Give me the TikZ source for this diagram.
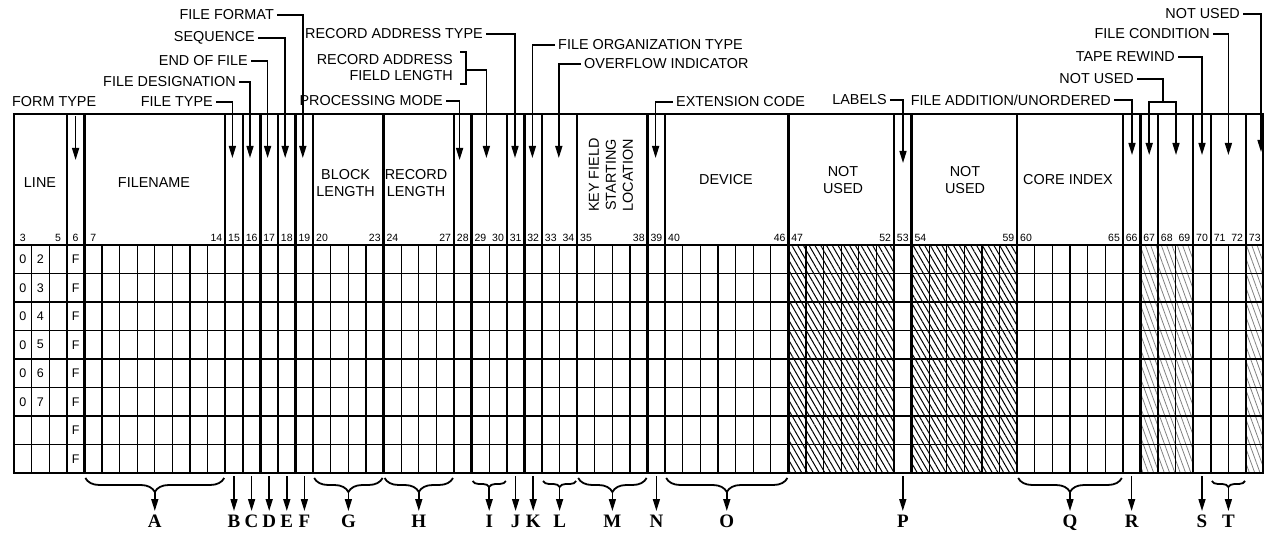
\documentclass[tikz,border=0pt]{standalone}
\usepackage{fontspec}
\setmainfont{Liberation Sans}
\newfontfamily\letterfont{Liberation Serif}
\usepackage{tikz}
\usetikzlibrary{arrows.meta}
\usetikzlibrary{decorations.pathreplacing}
\usetikzlibrary{patterns.meta}
\usetikzlibrary{positioning}
\tikzset{heavy/.style = {line width=2.4pt},
         light/.style = {line width=1.2pt},
         lead/.style = {line width=1.5pt, -{Triangle[length=12pt,width=7pt]}},
         leadline/.style = {line width=1.5pt},
         tag/.style = {font=\fontsize{14.4}{16}\selectfont, inner xsep=3pt, inner ysep=0pt},
         title/.style = {font=\fontsize{14.4}{17}\selectfont, align=center, inner sep=0pt},
         colnum/.style = {font=\fontsize{10.5}{12}\selectfont, inner sep=0pt},
         entry/.style = {font=\fontsize{12.5}{14}\selectfont, inner sep=0pt},
         letter/.style = {font=\letterfont\bfseries\fontsize{19}{19}\selectfont, inner sep=0pt},
         hatch/.style = {pattern={Lines[angle=-60,distance=5pt,line width=1pt]}},
         fainthatch/.style = {pattern={Lines[angle=-70,distance=5pt,line width=0.8pt]}, pattern color=black!50},
         bigbrace/.style = {line width=1.8pt, decorate, decoration={brace, mirror, amplitude=14pt}},
         smallbrace/.style = {line width=1.8pt, decorate, decoration={brace, mirror, amplitude=6pt}}}

\begin{document}
\begin{tikzpicture}[x=1pt, y=-1pt,
    declare function={cx(\c)=14+(\c-3)*17.6; ry(\r)=245+\r*28.5;}]
  \useasboundingbox (0,0) rectangle (1264,534);

  % shaded columns
  \fill[hatch] ({cx(47)},245) rectangle ({cx(53)},473);
  \fill[hatch] ({cx(54)},245) rectangle ({cx(60)},473);
  \fill[fainthatch] ({cx(67)},245) rectangle ({cx(70)},473);
  \fill[fainthatch] ({cx(73)},245) rectangle ({cx(74)},473);

  % grid
  \foreach \c in {4,...,73}
    \draw[light] ({cx(\c)},245) -- ({cx(\c)},473);
  \foreach \r in {1,2,3,4,5,7}
    \draw[light] (14,{ry(\r)}) -- (1264,{ry(\r)});
  \foreach \r in {0,6,8}
    \draw[heavy] (12.8,{ry(\r)}) -- (1264,{ry(\r)});
  \draw[heavy] (12.8,114) -- (1264,114);
  \foreach \c in {3,6,7,15,16,17,18,19,20,24,28,29,31,32,33,35,39,40,47,53,54,60,66,67,68,70,71,73,74}
    \draw[heavy] ({cx(\c)},114) -- ({cx(\c)},474.2);

  % column numbers
  \foreach \c in {3,5,6,7,14,15,16,17,18,19,20,23,24,27,28,29,30,31,32,33,34,35,38,39,40,46,47,52,53,54,59,60,65,66,67,68,69,70,71,72,73}
    \node[colnum] (n\c) at ({cx(\c)+8.8},238) {\c};

  % line numbers and form type
  \foreach \r/\d in {0/2,1/3,2/4,3/5,4/6,5/7} {
    \node[entry] (z\r) at ({cx(3)+8.8},{ry(\r)+14.25}) {0};
    \node[entry] (d\r) at ({cx(4)+8.8},{ry(\r)+14.25}) {\d};
  }
  \foreach \r in {0,...,7}
    \node[entry] (f\r) at ({cx(6)+8.8},{ry(\r)+14.25}) {F};

  % field titles
  \node[title] (line) at (40,183) {LINE};
  \node[title] (fname) at (154,183) {FILENAME};
  \node[title] (blen) at (345.6,183) {BLOCK\\LENGTH};
  \node[title] (rlen) at (416,183) {RECORD\\LENGTH};
  \node[title, rotate=90] (key) at (611,175) {KEY FIELD\\STARTING\\LOCATION};
  \node[title] (dev) at (726,180) {DEVICE};
  \node[title] (nu1) at (843,180) {NOT\\USED};
  \node[title] (nu2) at (965,180) {NOT\\USED};
  \node[title] (core) at (1068,180) {CORE INDEX};

  % labels above the form
  \node[tag, anchor=west] (ftype) at (9,102) {FORM TYPE};
  \coordinate (ftype-top) at ({cx(6)+8.8},116);
  \coordinate (ftype-tip) at ({cx(6)+8.8},160);
  \draw[lead] (ftype-top) -- (ftype-tip);

  \foreach \n/\t/\x/\y/\tx/\ty in {ftyp/FILE TYPE/216/102/232.4/158,
      fdes/FILE DESIGNATION/239/82/250/158,
      eof/END OF FILE/251/61/267.6/158,
      seq/SEQUENCE/258/38/285.2/158,
      ffmt/FILE FORMAT/277/15/302.8/158,
      pmode/PROCESSING MODE/446/101/459.6/160,
      ratype/RECORD ADDRESS TYPE/486/34/515/158,
      labels/LABELS/890/100/903/163,
      fadd/{FILE ADDITION/UNORDERED}/1114/100/1132/155,
      tape/TAPE REWIND/1178/57/1202/155,
      fcond/FILE CONDITION/1213/34/1228.4/155,
      nu3/NOT USED/1243/14/1261/152} {
    \node[tag, anchor=east] (\n) at (\x,\y) {\t};
    \coordinate (\n-tip) at (\tx,\ty);
    \draw[lead] (\n.east) -| (\n-tip);
  }

  \foreach \n/\t/\x/\y/\tx/\ty in {forg/FILE ORGANIZATION TYPE/555/45/532.4/158,
      ovfl/OVERFLOW INDICATOR/581/64/558.8/158,
      ext/EXTENSION CODE/673/102/655.6/158} {
    \node[tag, anchor=west] (\n) at (\x,\y) {\t};
    \coordinate (\n-tip) at (\tx,\ty);
    \draw[lead] (\n.west) -| (\n-tip);
  }

  \node[tag, anchor=east, align=right] (rafl) at (456,68) {RECORD ADDRESS\\FIELD LENGTH};
  \draw[leadline] (460,52) -- (466,52) -- (466,84) -- (460,84);
  \coordinate (rafl-br) at (466,70);
  \coordinate (rafl-tip) at (486.4,158);
  \draw[lead] (rafl-br) -| (rafl-tip);

  \node[tag, anchor=east] (nu4) at (1137,79) {NOT USED};
  \coordinate (nu4-fork) at (1163,102);
  \coordinate (nu4-a) at ({cx(67)+8.8},155);
  \coordinate (nu4-b) at (1176,155);
  \draw[leadline] (nu4.east) -| (nu4-fork);
  \draw[lead] (nu4-fork) -| (nu4-a);
  \draw[lead] (nu4-fork) -| (nu4-b);

  % letters below the form
  \foreach \n/\a/\b in {A/7/15, G/20/24, H/24/28, M/35/39, O/40/47, Q/60/66} {
    \draw[bigbrace] ({cx(\a)+1},478) -- ({cx(\b)-1},478);
    \coordinate (\n-top) at ({(cx(\a)+cx(\b))/2},492);
    \coordinate (\n-tip) at ({(cx(\a)+cx(\b))/2},511);
    \draw[lead] (\n-top) -- (\n-tip);
    \node[letter, below=4pt of \n-tip] (\n) {\n};
  }
  \foreach \n/\a/\b in {I/29/31, L/33/35, T/71/73} {
    \draw[smallbrace] ({cx(\a)+1},481) -- ({cx(\b)-1},481);
    \coordinate (\n-top) at ({(cx(\a)+cx(\b))/2},487);
    \coordinate (\n-tip) at ({(cx(\a)+cx(\b))/2},511);
    \draw[lead] (\n-top) -- (\n-tip);
    \node[letter, below=4pt of \n-tip] (\n) {\n};
  }
  \foreach \n/\c in {B/15, C/16, D/17, E/18, F/19, J/31, K/32, N/39, P/53, R/66, S/70} {
    \coordinate (\n-top) at ({cx(\c)+8.8},476);
    \coordinate (\n-tip) at ({cx(\c)+8.8},511);
    \draw[lead] (\n-top) -- (\n-tip);
    \node[letter, below=4pt of \n-tip] (\n) {\n};
  }
\end{tikzpicture}
\end{document}
